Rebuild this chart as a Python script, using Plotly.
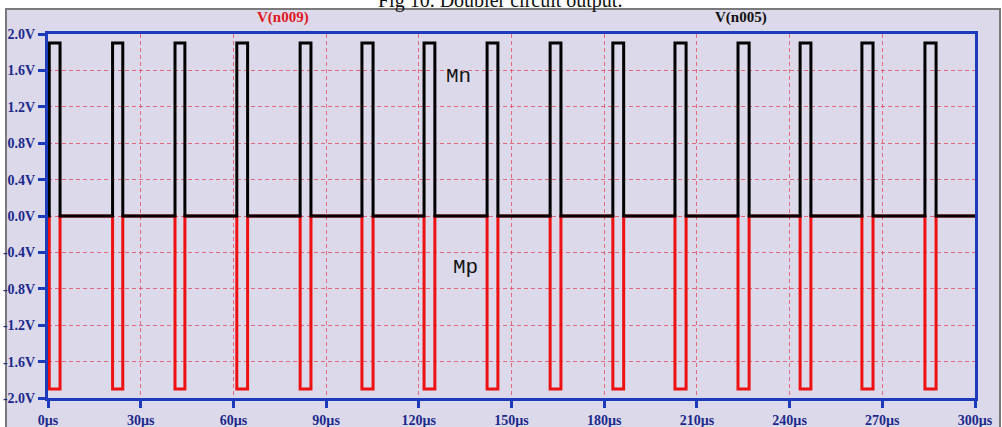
import plotly.graph_objects as go

# ---- data (times in microseconds, volts) ----
pulse_on_us = [0.4, 20.9, 41.1, 61.1, 81.6, 101.6, 121.7, 142.1, 162.5, 182.8,
               202.9, 223.3, 243.4, 263.4, 283.8]
pulse_off_us = [3.9, 24.2, 44.3, 64.6, 85.1, 105.2, 125.2, 145.6, 166.0, 186.3,
                206.5, 226.9, 246.9, 267.0, 287.4]
v_n005_high = 1.9     # Mn output level during pulse
v_n009_low = -1.9     # Mp output level during pulse
t_end_us = 300.0

y_tick_vals = [2.0, 1.6, 1.2, 0.8, 0.4, 0.0, -0.4, -0.8, -1.2, -1.6, -2.0]
y_tick_text = ["2.0V", "1.6V", "1.2V", "0.8V", "0.4V", "0.0V", "-0.4V", "-0.8V",
               "-1.2V", "-1.6V", "-2.0V"]
x_tick_vals = [0, 30, 60, 90, 120, 150, 180, 210, 240, 270, 300]
x_tick_text = ["0µs", "30µs", "60µs", "90µs", "120µs", "150µs", "180µs", "210µs",
               "240µs", "270µs", "300µs"]


def step_wave(level):
    t, v = [0.0], [0.0]
    for a, b in zip(pulse_on_us, pulse_off_us):
        t += [a, a, b, b]
        v += [0.0, level, level, 0.0]
    t.append(t_end_us)
    v.append(0.0)
    return t, v


t_p, v_p = step_wave(v_n009_low)
t_n, v_n = step_wave(v_n005_high)

LAV = "#dcd9ea"
BLUE = "#1c3cbc"
LABEL = "#1c2a8c"

fig = go.Figure()
fig.add_trace(go.Scatter(x=t_p, y=v_p, mode="lines",
                         line=dict(color="#ee1111", width=3), name="V(n009)"))
fig.add_trace(go.Scatter(x=t_n, y=v_n, mode="lines",
                         line=dict(color="#000000", width=3), name="V(n005)"))

L, R, T, B = 48, 27, 34, 29
W, H = 1002, 427
pw, ph = W - L - R, H - T - B


def px(x):
    return (x - L) / pw


def py(y):
    return (H - B - y) / ph


fig.add_shape(type="rect", xref="paper", yref="paper",
              x0=px(6), x1=px(1000), y0=py(440), y1=py(9),
              fillcolor=LAV, line=dict(color="#7a7a7a", width=2), layer="below")

axis_common = dict(showline=True, linecolor=BLUE, linewidth=3, mirror=True,
                   ticks="outside", ticklen=7, tickwidth=3, tickcolor=BLUE,
                   showgrid=True, gridcolor="rgba(225,70,90,0.75)", gridwidth=1,
                   griddash="4px,3px", zeroline=False, automargin=False,
                   tickfont=dict(family="Liberation Serif", size=14,
                                 color=LABEL, weight="bold"))

fig.update_xaxes(range=[0, 300], tickmode="array", tickvals=x_tick_vals,
                 ticktext=x_tick_text, **axis_common)
fig.update_yaxes(range=[-2, 2], tickmode="array", tickvals=y_tick_vals,
                 ticktext=y_tick_text, **axis_common)

fig.add_annotation(text="V(n009)", xref="paper", yref="paper", x=px(283), y=py(18),
                   xanchor="center", yanchor="middle", showarrow=False,
                   font=dict(family="Liberation Serif", size=15, color="#e01820",
                             weight="bold"))
fig.add_annotation(text="V(n005)", xref="paper", yref="paper", x=px(741), y=py(18),
                   xanchor="center", yanchor="middle", showarrow=False,
                   font=dict(family="Liberation Serif", size=15, color="#111111",
                             weight="bold"))
fig.add_annotation(text="Fig 10. Doubler circuit output.", xref="paper", yref="paper",
                   x=px(500), y=py(14), xanchor="center", yanchor="bottom",
                   showarrow=False,
                   font=dict(family="Liberation Serif", size=20, color="#111111"))
fig.add_annotation(text="Mn", x=132.7, y=1.53, showarrow=False,
                   xanchor="center", yanchor="middle",
                   font=dict(family="Liberation Mono", size=21, color="#111111"))
fig.add_annotation(text="Mp", x=135.0, y=-0.57, showarrow=False,
                   xanchor="center", yanchor="middle",
                   font=dict(family="Liberation Mono", size=21, color="#111111"))

fig.update_layout(width=W, height=H, margin=dict(l=L, r=R, t=T, b=B),
                  paper_bgcolor="#ffffff", plot_bgcolor=LAV, showlegend=False)

fig.write_html("out.html")
